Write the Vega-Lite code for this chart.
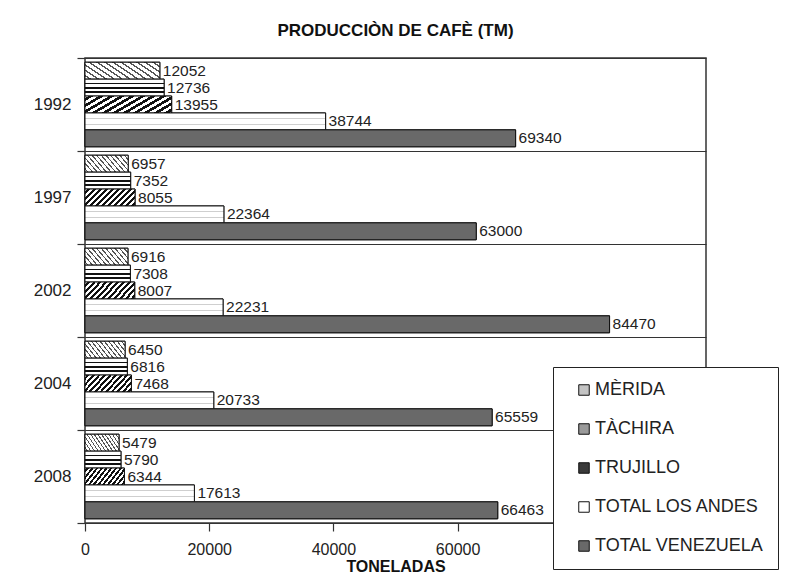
{
  "$schema": "https://vega.github.io/schema/vega-lite/v6.json",
  "width": 621,
  "height": 465,
  "autosize": "none",
  "padding": {"left": 85, "top": 58, "right": 79, "bottom": 59},
  "background": "white",
  "title": {
    "text": "PRODUCCIÒN DE CAFÈ (TM)",
    "font": "Liberation Sans",
    "fontSize": 17,
    "fontWeight": "bold",
    "color": "#111",
    "anchor": "middle",
    "offset": 9
  },
  "data": {
    "values": [
      {"year": "1992", "series": "MÈRIDA", "value": 12052},
      {"year": "1992", "series": "TÀCHIRA", "value": 12736},
      {"year": "1992", "series": "TRUJILLO", "value": 13955},
      {"year": "1992", "series": "TOTAL LOS ANDES", "value": 38744},
      {"year": "1992", "series": "TOTAL VENEZUELA", "value": 69340},
      {"year": "1997", "series": "MÈRIDA", "value": 6957},
      {"year": "1997", "series": "TÀCHIRA", "value": 7352},
      {"year": "1997", "series": "TRUJILLO", "value": 8055},
      {"year": "1997", "series": "TOTAL LOS ANDES", "value": 22364},
      {"year": "1997", "series": "TOTAL VENEZUELA", "value": 63000},
      {"year": "2002", "series": "MÈRIDA", "value": 6916},
      {"year": "2002", "series": "TÀCHIRA", "value": 7308},
      {"year": "2002", "series": "TRUJILLO", "value": 8007},
      {"year": "2002", "series": "TOTAL LOS ANDES", "value": 22231},
      {"year": "2002", "series": "TOTAL VENEZUELA", "value": 84470},
      {"year": "2004", "series": "MÈRIDA", "value": 6450},
      {"year": "2004", "series": "TÀCHIRA", "value": 6816},
      {"year": "2004", "series": "TRUJILLO", "value": 7468},
      {"year": "2004", "series": "TOTAL LOS ANDES", "value": 20733},
      {"year": "2004", "series": "TOTAL VENEZUELA", "value": 65559},
      {"year": "2008", "series": "MÈRIDA", "value": 5479},
      {"year": "2008", "series": "TÀCHIRA", "value": 5790},
      {"year": "2008", "series": "TRUJILLO", "value": 6344},
      {"year": "2008", "series": "TOTAL LOS ANDES", "value": 17613},
      {"year": "2008", "series": "TOTAL VENEZUELA", "value": 66463}
    ]
  },
  "encoding": {
    "y": {
      "field": "year",
      "type": "nominal",
      "sort": ["1992", "1997", "2002", "2004", "2008"],
      "scale": {"paddingInner": 0, "paddingOuter": 0},
      "axis": {
        "title": null,
        "tickBand": "extent",
        "grid": true,
        "gridColor": "#333",
        "gridWidth": 1.2,
        "domain": false,
        "ticks": true,
        "tickColor": "#333",
        "tickSize": 8,
        "tickWidth": 1.2,
        "labelFont": "Liberation Sans",
        "labelFontSize": 17,
        "labelColor": "#222",
        "labelPadding": 6
      }
    },
    "yOffset": {
      "field": "series",
      "type": "nominal",
      "sort": ["MÈRIDA", "TÀCHIRA", "TRUJILLO", "TOTAL LOS ANDES", "TOTAL VENEZUELA"],
      "scale": {"paddingInner": 0, "paddingOuter": 0.25}
    },
    "x": {
      "field": "value",
      "type": "quantitative",
      "scale": {"domain": [0, 100000], "nice": false},
      "axis": {
        "title": "TONELADAS",
        "titleFont": "Liberation Sans",
        "titleFontSize": 16,
        "titleFontWeight": "bold",
        "titleColor": "#111",
        "titlePadding": 1,
        "values": [0, 20000, 40000, 60000],
        "format": "d",
        "grid": false,
        "domainColor": "#333",
        "domainWidth": 1.2,
        "tickColor": "#333",
        "tickSize": 8,
        "tickWidth": 1.2,
        "labelFont": "Liberation Sans",
        "labelFontSize": 16,
        "labelColor": "#222",
        "labelPadding": 10,
        "labelFlush": false
      }
    }
  },
  "layer": [
    {
      "mark": {"type": "bar", "stroke": "#111", "strokeWidth": 1},
      "encoding": {
        "fill": {
          "field": "series",
          "type": "nominal",
          "scale": {
            "domain": ["MÈRIDA", "TÀCHIRA", "TRUJILLO", "TOTAL LOS ANDES", "TOTAL VENEZUELA"],
            "range": ["#c4c4c4", "#9a9a9a", "#3a3a3a", "#ffffff", "#696969"]
          },
          "legend": {
            "title": null,
            "orient": "none",
            "legendX": 468,
            "legendY": 309,
            "direction": "vertical",
            "fillColor": "white",
            "strokeColor": "#222",
            "padding": 14,
            "symbolType": "square",
            "symbolSize": 110,
            "symbolStrokeColor": "#111",
            "symbolStrokeWidth": 1,
            "symbolOffset": 8,
            "labelFont": "Liberation Sans",
            "labelFontSize": 18,
            "labelColor": "#222",
            "labelOffset": 2,
            "rowPadding": 21,
            "labelLimit": 300
          }
        }
      }
    },
    {
      "mark": {"type": "bar", "stroke": "#111", "strokeWidth": 1},
      "encoding": {
        "fill": {
          "condition": [
            {"test": "datum.series === 'MÈRIDA'", "value": {"gradient": "linear", "x1": 0, "y1": 1, "x2": 1.2, "y2": 0.6, "stops": [
                {"offset": 0, "color": "#fff"}, {"offset": 0.04, "color": "#fff"}, {"offset": 0.04, "color": "#555"}, {"offset": 0.065, "color": "#555"}, {"offset": 0.065, "color": "#fff"},
                {"offset": 0.12, "color": "#fff"}, {"offset": 0.12, "color": "#555"}, {"offset": 0.145, "color": "#555"}, {"offset": 0.145, "color": "#fff"},
                {"offset": 0.20, "color": "#fff"}, {"offset": 0.20, "color": "#555"}, {"offset": 0.225, "color": "#555"}, {"offset": 0.225, "color": "#fff"},
                {"offset": 0.28, "color": "#fff"}, {"offset": 0.28, "color": "#555"}, {"offset": 0.305, "color": "#555"}, {"offset": 0.305, "color": "#fff"},
                {"offset": 0.36, "color": "#fff"}, {"offset": 0.36, "color": "#555"}, {"offset": 0.385, "color": "#555"}, {"offset": 0.385, "color": "#fff"},
                {"offset": 0.44, "color": "#fff"}, {"offset": 0.44, "color": "#555"}, {"offset": 0.465, "color": "#555"}, {"offset": 0.465, "color": "#fff"},
                {"offset": 0.52, "color": "#fff"}, {"offset": 0.52, "color": "#555"}, {"offset": 0.545, "color": "#555"}, {"offset": 0.545, "color": "#fff"},
                {"offset": 0.60, "color": "#fff"}, {"offset": 0.60, "color": "#555"}, {"offset": 0.625, "color": "#555"}, {"offset": 0.625, "color": "#fff"},
                {"offset": 0.68, "color": "#fff"}, {"offset": 0.68, "color": "#555"}, {"offset": 0.705, "color": "#555"}, {"offset": 0.705, "color": "#fff"},
                {"offset": 0.76, "color": "#fff"}, {"offset": 0.76, "color": "#555"}, {"offset": 0.785, "color": "#555"}, {"offset": 0.785, "color": "#fff"},
                {"offset": 0.84, "color": "#fff"}, {"offset": 0.84, "color": "#555"}, {"offset": 0.865, "color": "#555"}, {"offset": 0.865, "color": "#fff"},
                {"offset": 0.92, "color": "#fff"}, {"offset": 0.92, "color": "#555"}, {"offset": 0.945, "color": "#555"}, {"offset": 0.945, "color": "#fff"},
                {"offset": 1, "color": "#fff"}]}},
            {"test": "datum.series === 'TÀCHIRA'", "value": {"gradient": "linear", "x1": 0, "y1": 0, "x2": 0, "y2": 1, "stops": [
                {"offset": 0, "color": "#fff"}, {"offset": 0.2, "color": "#fff"}, {"offset": 0.2, "color": "#111"}, {"offset": 0.3, "color": "#111"}, {"offset": 0.3, "color": "#fff"},
                {"offset": 0.46, "color": "#fff"}, {"offset": 0.46, "color": "#111"}, {"offset": 0.56, "color": "#111"}, {"offset": 0.56, "color": "#fff"},
                {"offset": 0.72, "color": "#fff"}, {"offset": 0.72, "color": "#111"}, {"offset": 0.82, "color": "#111"}, {"offset": 0.82, "color": "#fff"},
                {"offset": 1, "color": "#fff"}]}},
            {"test": "datum.series === 'TRUJILLO'", "value": {"gradient": "linear", "x1": 0, "y1": 0, "x2": 1.2, "y2": 0.4, "stops": [
                {"offset": 0, "color": "#fff"}, {"offset": 0.03, "color": "#fff"}, {"offset": 0.03, "color": "#111"}, {"offset": 0.075, "color": "#111"}, {"offset": 0.075, "color": "#fff"},
                {"offset": 0.12, "color": "#fff"}, {"offset": 0.12, "color": "#111"}, {"offset": 0.165, "color": "#111"}, {"offset": 0.165, "color": "#fff"},
                {"offset": 0.21, "color": "#fff"}, {"offset": 0.21, "color": "#111"}, {"offset": 0.255, "color": "#111"}, {"offset": 0.255, "color": "#fff"},
                {"offset": 0.30, "color": "#fff"}, {"offset": 0.30, "color": "#111"}, {"offset": 0.345, "color": "#111"}, {"offset": 0.345, "color": "#fff"},
                {"offset": 0.39, "color": "#fff"}, {"offset": 0.39, "color": "#111"}, {"offset": 0.435, "color": "#111"}, {"offset": 0.435, "color": "#fff"},
                {"offset": 0.48, "color": "#fff"}, {"offset": 0.48, "color": "#111"}, {"offset": 0.525, "color": "#111"}, {"offset": 0.525, "color": "#fff"},
                {"offset": 0.57, "color": "#fff"}, {"offset": 0.57, "color": "#111"}, {"offset": 0.615, "color": "#111"}, {"offset": 0.615, "color": "#fff"},
                {"offset": 0.66, "color": "#fff"}, {"offset": 0.66, "color": "#111"}, {"offset": 0.705, "color": "#111"}, {"offset": 0.705, "color": "#fff"},
                {"offset": 0.75, "color": "#fff"}, {"offset": 0.75, "color": "#111"}, {"offset": 0.795, "color": "#111"}, {"offset": 0.795, "color": "#fff"},
                {"offset": 0.84, "color": "#fff"}, {"offset": 0.84, "color": "#111"}, {"offset": 0.885, "color": "#111"}, {"offset": 0.885, "color": "#fff"},
                {"offset": 0.93, "color": "#fff"}, {"offset": 0.93, "color": "#111"}, {"offset": 0.975, "color": "#111"}, {"offset": 0.975, "color": "#fff"},
                {"offset": 1, "color": "#fff"}]}},
            {"test": "datum.series === 'TOTAL LOS ANDES'", "value": {"gradient": "linear", "x1": 0, "y1": 0, "x2": 0, "y2": 1, "stops": [
                {"offset": 0, "color": "#fff"}, {"offset": 0.3, "color": "#fff"}, {"offset": 0.3, "color": "#cfcfcf"}, {"offset": 0.36, "color": "#cfcfcf"}, {"offset": 0.36, "color": "#fff"},
                {"offset": 0.64, "color": "#fff"}, {"offset": 0.64, "color": "#cfcfcf"}, {"offset": 0.7, "color": "#cfcfcf"}, {"offset": 0.7, "color": "#fff"},
                {"offset": 1, "color": "#fff"}]}}
          ],
          "value": "#696969"
        }
      }
    },
    {
      "mark": {
        "type": "text",
        "align": "left",
        "baseline": "middle",
        "dx": 3,
        "font": "Liberation Sans",
        "fontSize": 15.5,
        "color": "#222"
      },
      "encoding": {
        "text": {"field": "value", "type": "quantitative", "format": "d"}
      }
    }
  ],
  "config": {
    "view": {"stroke": "#333", "strokeWidth": 1.5}
  }
}
